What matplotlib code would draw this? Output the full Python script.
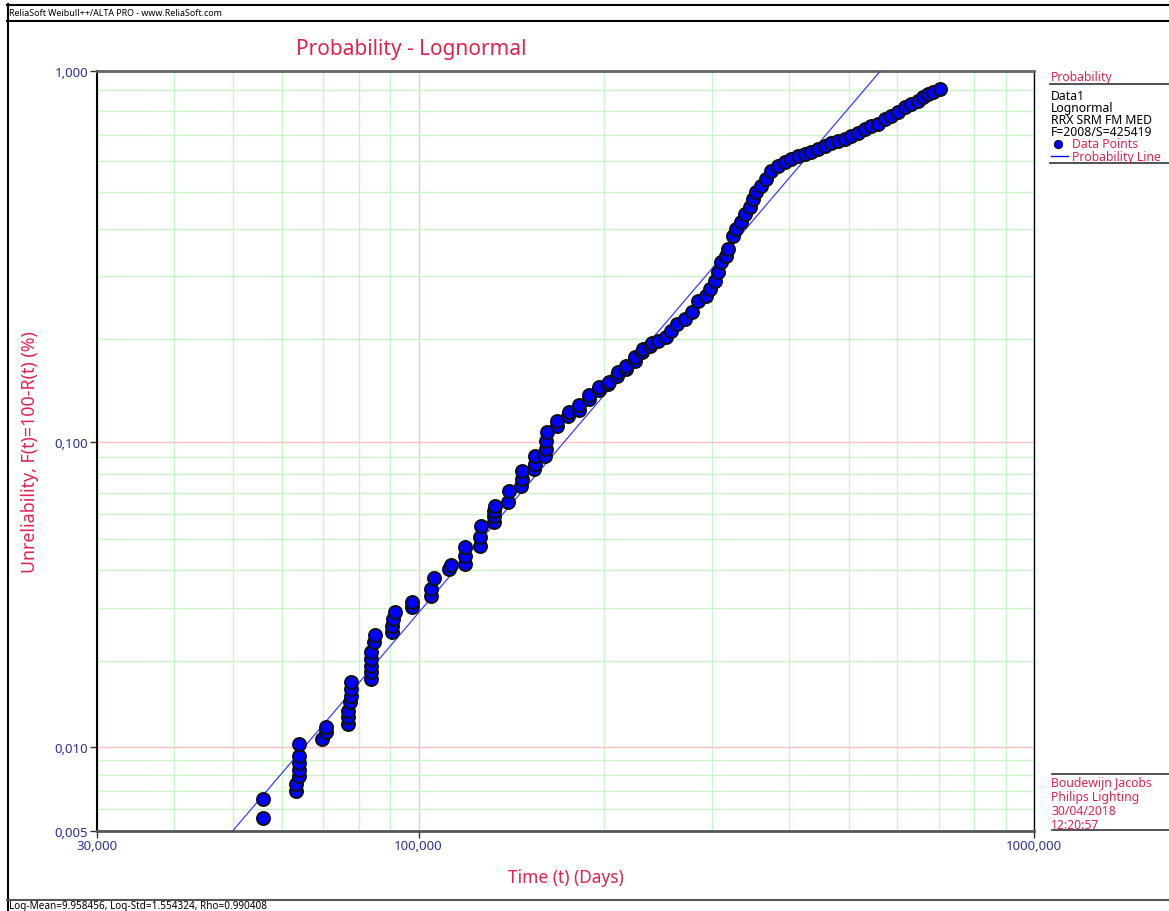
import math
import numpy as np
import matplotlib
matplotlib.use("Agg")
import matplotlib.pyplot as plt
from matplotlib.lines import Line2D
from matplotlib.ticker import FixedLocator, FixedFormatter, NullFormatter
from statistics import NormalDist

# ---------------- data ----------------
# failure times (thousands of days)
time_kdays = [55.8, 55.8, 63.12, 63.12, 63.83, 63.83, 63.83, 63.83, 63.83, 69.81, 70.86, 70.86,
              76.92, 76.92, 76.92, 77.5, 77.79, 77.79, 77.79, 83.81, 83.81, 83.81, 83.81, 83.81,
              84.76, 85.07, 90.65, 90.65, 90.98, 91.67, 97.67, 97.67, 104.8, 104.8, 106, 112.1,
              113, 119, 119, 119, 125.9, 125.9, 126.4, 132.6, 132.6, 132.6, 133.1, 139.8, 140.3,
              146.7, 147.2, 147.2,
              154, 154.6, 154.6, 160.4, 161, 161, 161.6, 167.8, 167.8, 174.8, 175.5, 182.1, 182.1,
              189.1, 189.1, 196.3, 196.3, 203, 203.7, 209.9, 210.7, 217.1, 217.1, 224.5, 224.5,
              230.4, 231.3, 237.4, 239.2, 244.6, 252, 256.8, 262.6, 271.5, 277.7, 285, 292.6,
              298.1, 303.7, 307.1, 310.6, 316.4, 318.8, 324.8, 328.5, 334.7, 339.7, 346.1, 350,
              353.9, 360.6, 367.4, 374.3, 384.2, 394.4, 403.3, 414, 424.9, 434.6, 446.1, 457.9,
              468.2, 480.6, 493.4, 504.5, 517.9, 531.6, 543.6, 558, 572.8, 585.8, 601.3, 617.2,
              631.2, 647.9, 660.1, 672.5, 685.2, 703.3]
# unreliability (%)
unrel_pct = [0.00557, 0.006534, 0.006985, 0.007404, 0.007911, 0.008313, 0.008806, 0.009326, 0.01029,
             0.01071, 0.01134, 0.01181, 0.01209, 0.0128, 0.01343, 0.01443, 0.01513, 0.016, 0.01691,
             0.01731, 0.01829, 0.01917, 0.02025, 0.02138, 0.02311, 0.02439, 0.02496, 0.02614, 0.02757,
             0.02909, 0.03021, 0.03138, 0.03284, 0.03461, 0.03759, 0.0402, 0.04141, 0.04172, 0.04426,
             0.0473, 0.04765, 0.0509, 0.05515, 0.05677, 0.05929, 0.06147, 0.06372, 0.06558, 0.07095,
             0.07352, 0.07726, 0.08175, 0.08291, 0.08588, 0.09083, 0.09083, 0.09538, 0.1008, 0.1073,
             0.1118, 0.1157, 0.1198, 0.1231, 0.1248, 0.1291, 0.1344, 0.1381, 0.1428, 0.1458,
             0.1487, 0.1507, 0.1569, 0.1611, 0.1644, 0.1677, 0.1733, 0.178, 0.1839, 0.1876,
             0.1913, 0.1951, 0.1977, 0.2029, 0.211, 0.2208, 0.2281, 0.2386, 0.256, 0.2643,
             0.2763, 0.2906, 0.3075, 0.3273, 0.3397, 0.3548, 0.3843, 0.4011, 0.4186, 0.4394,
             0.4583, 0.4808, 0.5013, 0.5195, 0.5415, 0.5676, 0.5845, 0.5983, 0.6089, 0.6196,
             0.6269, 0.6342, 0.6453, 0.6566, 0.6681, 0.6758, 0.6836, 0.6955, 0.7076, 0.724,
             0.7365, 0.7449, 0.7664, 0.7795, 0.7973, 0.8201, 0.8341, 0.8482, 0.8674, 0.8821,
             0.892, 0.907]
time_days = [t * 1000 for t in time_kdays]

# fitted probability line (lognormal, ln-days)
line_mu = 16.841
line_sigma = 1.548

x_major = [30000, 100000, 1000000]
x_labels = ['30,000', '100,000', '1000,000']
x_minor = [40000, 50000, 60000, 70000, 80000, 90000] + [k * 100000 for k in range(2, 10)]
y_major = [0.005, 0.01, 0.1, 1.0]
y_labels = ['0,005', '0,010', '0,100', '1,000']
y_minor = [0.006, 0.007, 0.008, 0.009] + [k / 100 for k in range(2, 10)] + [k / 10 for k in range(2, 10)]

info_lines = ['Data1', 'Lognormal', 'RRX SRM FM MED', 'F=2008/S=425419']
user_lines = ['Boudewijn Jacobs', 'Philips Lighting', '30/04/2018', '12:20:57']

# ---------------- figure ----------------
ND = NormalDist()
W, H = 1169, 912
plt.rcParams['font.family'] = ['Noto Sans', 'DejaVu Sans']
fig = plt.figure(figsize=(W / 100, H / 100), dpi=100)

def fx(x): return x / W
def fy(y): return 1 - y / H

ax = fig.add_axes([fx(96.7), fy(831.7), fx(1034) - fx(96.7), fy(72.3) - fy(831.7)])

_ppf = np.vectorize(lambda q: ND.inv_cdf(min(max(q, 1e-15), 1 - 1e-15)), otypes=[float])
_cdf = np.vectorize(lambda z: ND.cdf(z), otypes=[float])
def fwd(p):
    return _ppf(np.asarray(p, float) / 100.0)
def inv(z):
    return 100.0 * _cdf(np.asarray(z, float))

ax.set_xscale('log')
ax.set_yscale('function', functions=(fwd, inv))
ax.set_xlim(30000, 1000000)
ax.set_ylim(0.005, 1.0)

red = '#e3224c'
navy = '#2e2e9e'

ax.xaxis.set_major_locator(FixedLocator(x_major))
ax.xaxis.set_major_formatter(FixedFormatter(x_labels))
ax.xaxis.set_minor_locator(FixedLocator(x_minor))
ax.xaxis.set_minor_formatter(NullFormatter())
ax.yaxis.set_major_locator(FixedLocator(y_major))
ax.yaxis.set_major_formatter(FixedFormatter(y_labels))
ax.yaxis.set_minor_locator(FixedLocator(y_minor))
ax.yaxis.set_minor_formatter(NullFormatter())

ax.grid(True, which='minor', color='#c8f5c8', linewidth=1.0)
ax.grid(True, which='major', color='#ffc0c0', linewidth=1.0)
ax.set_axisbelow(True)
ax.tick_params(which='minor', length=0)
ax.tick_params(which='major', length=5, width=1, color='#333333', labelcolor=navy, labelsize=9.5, pad=1)

for s, c, lw in [('left', 'black', 1.5), ('bottom', '#555555', 2.0), ('top', '#666666', 2.0), ('right', 'black', 1.0)]:
    ax.spines[s].set_color(c)
    ax.spines[s].set_linewidth(lw)

t_line = np.logspace(math.log10(30000), 6, 400)
F_line = inv((np.log(t_line) - line_mu) / line_sigma)
ax.plot(t_line, F_line, color='#3b3bff', linewidth=0.9, zorder=3)

ax.scatter(time_days, unrel_pct, s=88, color='#0000ff', edgecolors='#111111',
           linewidths=1.4, zorder=4, clip_on=False)

fig.text(fx(411), fy(50), 'Probability - Lognormal', color=red, fontsize=15, ha='center', va='center')
fig.text(fx(566), fy(878), 'Time (t) (Days)', color=red, fontsize=12.5, ha='center', va='center')
fig.text(fx(30), fy(452), 'Unreliability, F(t)=100-R(t) (%)', color=red, fontsize=12.8,
         ha='center', va='center', rotation=90)

def hline(y, x0, x1, c='black', lw=1.0):
    fig.add_artist(Line2D([fx(x0), fx(x1)], [fy(y), fy(y)], color=c, linewidth=lw))
def vline(x, y0, y1, c='black', lw=1.0):
    fig.add_artist(Line2D([fx(x), fx(x)], [fy(y0), fy(y1)], color=c, linewidth=lw))

vline(7.5, 5, 912, lw=1.5)
hline(6, 7, W, lw=1.5)
hline(21.5, 7, W, lw=1.5)
hline(900.5, 7, W, c='#555555', lw=1.5)
fig.text(fx(9), fy(13.5), 'ReliaSoft Weibull++/ALTA PRO - www.ReliaSoft.com', fontsize=6.4, va='center', ha='left')
fig.text(fx(9), fy(906.5), 'Log-Mean=9.958456, Log-Std=1.554324, Rho=0.990408', fontsize=7.2, va='center', ha='left')

# right info panel
hline(85, 1050, W, c='#444444', lw=1.3)
hline(164, 1050, W, c='#444444', lw=1.3)
fig.text(fx(1051), fy(78), 'Probability', color=red, fontsize=8.8, va='center', ha='left')
for i, s in enumerate(info_lines):
    fig.text(fx(1051), fy(96 + 12.3 * i), s, color='black', fontsize=8.8, va='center', ha='left')
fig.add_artist(Line2D([fx(1058)], [fy(145)], marker='o', markersize=6, color='#0000ff',
                      markeredgecolor='black', markeredgewidth=0.6))
fig.text(fx(1072), fy(145), 'Data Points', color=red, fontsize=8.8, va='center', ha='left')
hline(157, 1051, 1068, c='#0000ff', lw=1.0)
fig.text(fx(1072), fy(157), 'Probability Line', color=red, fontsize=8.8, va='center', ha='left')

hline(775, 1052, W, c='#444444', lw=1.3)
hline(831, 1052, W, c='#444444', lw=1.3)
for i, s in enumerate(user_lines):
    fig.text(fx(1051), fy(784 + 13.7 * i), s, color=red, fontsize=8.8, va='center', ha='left')

fig.savefig('out.png', dpi=100)
